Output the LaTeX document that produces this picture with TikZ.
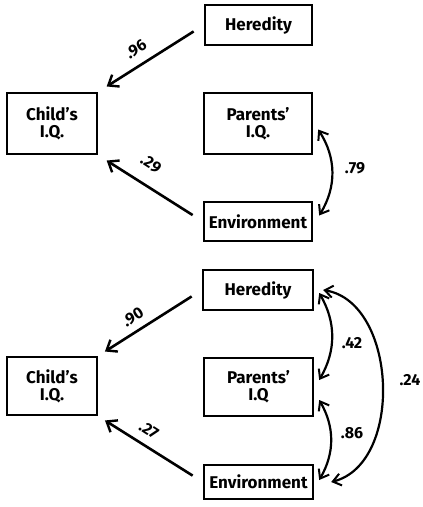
\documentclass[tikz,border=0pt]{standalone}
\usepackage{fontspec}
\setmainfont{Fira Sans}
\usetikzlibrary{arrows.meta}
\tikzset{
  every box node/.style={
    draw=black,line width=2.4pt,inner sep=0pt,align=center,
    font=\fontsize{17}{17}\selectfont\bfseries,
  },
  path arrow/.style={line width=2.6pt,-{Straight Barb[length=9pt,width=14pt,line width=2.4pt]}},
  corr arrow/.style={line width=2.2pt,{Straight Barb[length=8pt,width=12pt,line width=2pt]}-{Straight Barb[length=8pt,width=12pt,line width=2pt]}},
  coef/.style={font=\fontsize{16}{16}\selectfont\bfseries,inner sep=1pt},
}

\begin{document}
\begin{tikzpicture}[x=1pt,y=-1pt]
   \useasboundingbox (0,0) rectangle (423,507);

   % NODES (upper model)
   \node[every box node,minimum width=107pt,minimum height=40pt] (her1) at (258.5, 25.0) {Heredity};
   \node[every box node,minimum width=90pt,minimum height=61pt] (child1) at (52.0, 123.5) {Child's\\I.Q.};
   \node[every box node,minimum width=108pt,minimum height=61pt] (par1) at (258.0, 123.5) {Parents'\\I.Q.};
   \node[every box node,minimum width=108pt,minimum height=39pt] (env1) at (258.0, 221.5) {Environment};

   % DRAW PATHS (upper model)
   \draw[path arrow,shorten <=12pt,shorten >=10pt] (her1.west) -- (child1.north east);
   \draw[path arrow,shorten <=12pt,shorten >=10pt] (env1.west) -- (child1.south east);
   \draw[corr arrow] ([shift={(5,6)}]par1.east) to[bend left=32] ([shift={(6,-6)}]env1.east);
   \node[coef,rotate=33] (c96) at (136, 49) {.96};
   \node[coef,rotate=-33] (c29) at (151, 164) {.29};
   \node[coef] (c79) at (355, 168) {.79};

   % NODES (lower model)
   \node[every box node,minimum width=110pt,minimum height=40pt] (her2) at (258.0, 290.0) {Heredity};
   \node[every box node,minimum width=90pt,minimum height=58pt] (child2) at (52.0, 386.0) {Child's\\I.Q.};
   \node[every box node,minimum width=109pt,minimum height=58pt] (par2) at (258.5, 387.0) {Parents'\\I.Q};
   \node[every box node,minimum width=109pt,minimum height=34pt] (env2) at (258.5, 482.0) {Environment};

   % DRAW PATHS (lower model)
   \draw[path arrow,shorten <=12pt,shorten >=8pt] (her2.west) -- (child2.north east);
   \draw[path arrow,shorten <=12pt,shorten >=8pt] (env2.west) -- (child2.south east);
   \draw[corr arrow] ([shift={(5,3)}]her2.east) to[bend left=30] ([shift={(5,-7)}]par2.east);
   \draw[corr arrow] ([shift={(5,13)}]par2.east) to[bend left=30] ([shift={(5,-2)}]env2.east);
   \draw[corr arrow] ([shift={(9,0)}]her2.east) to[bend left=78] ([shift={(17,0)}]env2.east);
   \node[coef,rotate=33] (c90) at (133, 317) {.90};
   \node[coef,rotate=-33] (c27) at (149, 430) {.27};
   \node[coef] (c42) at (352, 343) {.42};
   \node[coef] (c86) at (352, 433) {.86};
   \node[coef] (c24) at (410, 380) {.24};
\end{tikzpicture}
\end{document}
